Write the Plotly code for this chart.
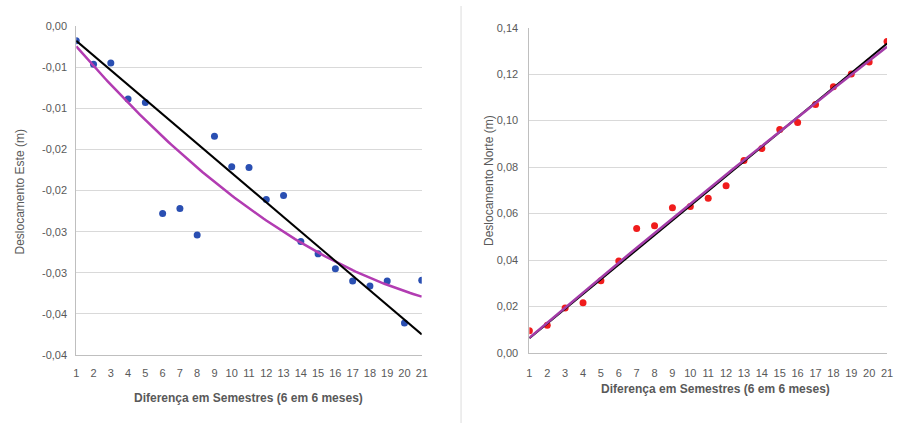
import numpy as np
import plotly.graph_objects as go

# Semester differences (x) shared by both panels
semestres = list(range(1, 22))

# East displacement (m) per semester difference
desloc_este = [-0.00177, -0.00465, -0.0045, -0.00886, -0.0093, -0.0228, -0.0222,
               -0.0254, -0.0134, -0.0171, -0.0172, -0.0211, -0.0206, -0.0262,
               -0.0277, -0.0295, -0.0310, -0.0316, -0.0310, -0.0361, -0.0309]

# North displacement (m) per semester difference
desloc_norte = [0.0096, 0.0120, 0.0194, 0.0216, 0.0311, 0.0396, 0.0536,
                0.0548, 0.0625, 0.0631, 0.0666, 0.0720, 0.0828, 0.0880,
                0.0962, 0.0992, 0.1069, 0.1146, 0.1201, 0.1252, 0.1341]

# Axis ticks and labels
este_tickvals = [0, -0.005, -0.01, -0.015, -0.02, -0.025, -0.03, -0.035, -0.04]
este_ticktext = ["0,00", "-0,01", "-0,01", "-0,02", "-0,02", "-0,03", "-0,03", "-0,04", "-0,04"]
norte_tickvals = [0, 0.02, 0.04, 0.06, 0.08, 0.10, 0.12, 0.14]
norte_ticktext = ["0,00", "0,02", "0,04", "0,06", "0,08", "0,10", "0,12", "0,14"]

x_title = "Diferença em Semestres (6 em 6 meses)"
y_title_este = "Deslocamento Este (m)"
y_title_norte = "Deslocamento Norte (m)"


def trend_through_origin(x, y, degree):
    """Least-squares polynomial trendline with the intercept fixed at zero."""
    x = np.asarray(x, dtype=float)
    y = np.asarray(y, dtype=float)
    A = np.column_stack([x ** k for k in range(1, degree + 1)])
    coef, *_ = np.linalg.lstsq(A, y, rcond=None)
    xs = np.linspace(x.min(), x.max(), 121)
    ys = sum(c * xs ** (k + 1) for k, c in enumerate(coef))
    return xs, ys


W, H = 897, 429
GRAY_TXT = "#595959"
GRID = "#D9D9D9"
AXIS = "#BFBFBF"

fig = go.Figure()

# Left panel: East
xl, yl = trend_through_origin(semestres, desloc_este, 1)
xq, yq = trend_through_origin(semestres, desloc_este, 2)
fig.add_trace(go.Scatter(x=semestres, y=desloc_este, mode="markers",
                         marker=dict(color="#2A4FB2", size=7), xaxis="x", yaxis="y"))
fig.add_trace(go.Scatter(x=xq, y=yq, mode="lines",
                         line=dict(color="#B23CB2", width=2.5), xaxis="x", yaxis="y"))
fig.add_trace(go.Scatter(x=xl, y=yl, mode="lines",
                         line=dict(color="#000000", width=2), xaxis="x", yaxis="y"))

# Right panel: North
xl2, yl2 = trend_through_origin(semestres, desloc_norte, 1)
xq2, yq2 = trend_through_origin(semestres, desloc_norte, 2)
fig.add_trace(go.Scatter(x=semestres, y=desloc_norte, mode="markers",
                         marker=dict(color="#F01C1C", size=7), xaxis="x2", yaxis="y2"))
fig.add_trace(go.Scatter(x=xl2, y=yl2, mode="lines",
                         line=dict(color="#000000", width=2), xaxis="x2", yaxis="y2"))
fig.add_trace(go.Scatter(x=xq2, y=yq2, mode="lines",
                         line=dict(color="#A33CA8", width=2.5), xaxis="x2", yaxis="y2"))

tick_font = dict(family="Liberation Sans, Arial, sans-serif", size=11, color=GRAY_TXT)

common_x = dict(range=[1, 21], tickmode="array", tickvals=semestres,
                ticktext=[str(v) for v in semestres], showgrid=False, zeroline=False,
                showline=True, linecolor=AXIS, linewidth=1, ticks="outside",
                ticklen=8, tickcolor="rgba(0,0,0,0)", tickfont=tick_font, fixedrange=True)
common_y = dict(showgrid=True, gridcolor=GRID, gridwidth=1, zeroline=False,
                showline=True, linecolor=AXIS, linewidth=1, ticks="outside",
                ticklen=6, tickcolor="rgba(0,0,0,0)", tickfont=tick_font, fixedrange=True)

fig.update_layout(
    width=W, height=H,
    margin=dict(l=0, r=0, t=0, b=0),
    paper_bgcolor="white", plot_bgcolor="white",
    showlegend=False,
    xaxis=dict(domain=[74 / W, 423 / W], anchor="y", **common_x),
    yaxis=dict(domain=[1 - 359 / H, 1 - 20.7 / H], anchor="x", range=[-0.04, 0],
               tickmode="array", tickvals=este_tickvals, ticktext=este_ticktext, **common_y),
    xaxis2=dict(domain=[531.7 / W, 893 / W], anchor="y2", **common_x),
    yaxis2=dict(domain=[1 - 357 / H, 1 - 22.3 / H], anchor="x2", range=[0, 0.14],
                tickmode="array", tickvals=norte_tickvals, ticktext=norte_ticktext, **common_y),
)
fig.layout.xaxis2.ticklen = 10
fig.layout.yaxis2.ticklen = 8

title_font = dict(family="Liberation Sans, Arial, sans-serif", size=12, color=GRAY_TXT)
annot = dict(xref="paper", yref="paper", showarrow=False, font=title_font,
             xanchor="center", yanchor="middle")
fig.add_annotation(x=248 / W, y=1 - 403 / H, text="<b>" + x_title + "</b>", **annot)
fig.add_annotation(x=720 / W, y=1 - 394 / H, text="<b>" + x_title + "</b>", **annot)
fig.add_annotation(x=17 / W, y=1 - 191 / H, text=y_title_este, textangle=-90, **annot)
fig.add_annotation(x=491 / W, y=1 - 180 / H, text=y_title_norte, textangle=-90, **annot)

# Divider between the two panels
fig.add_shape(type="line", xref="paper", yref="paper",
              x0=462.7 / W, x1=462.7 / W, y0=0, y1=1,
              line=dict(color="#DCDCDC", width=1))

fig.write_html("out.html")
